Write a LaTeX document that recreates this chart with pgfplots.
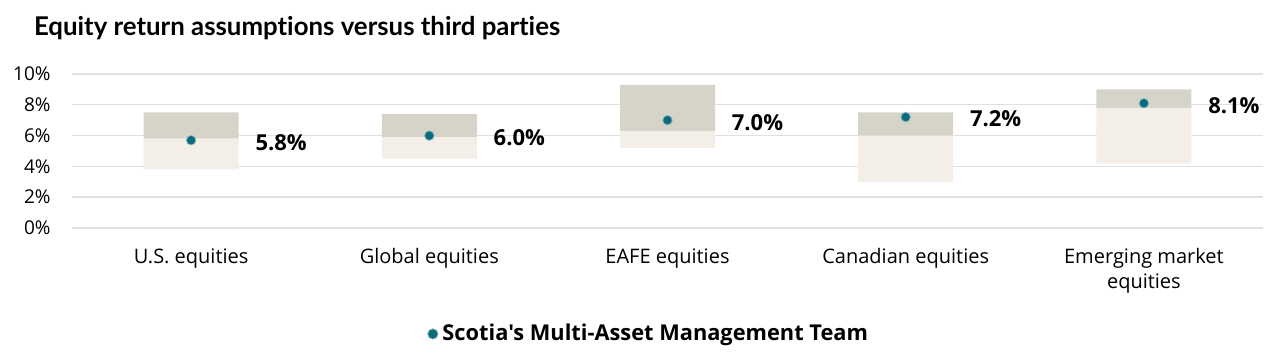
\documentclass[border=0pt]{standalone}
\usepackage{fontspec}
\setmainfont{Open Sans}
\newfontfamily\titlefont{Lato}[Ligatures={NoCommon}]
\newfontfamily\legfont{Open Sans}[Ligatures=TeXOff]
\usepackage{pgfplots}
\usepackage{pgfplotstable}
\pgfplotsset{compat=1.18}
\definecolor{upperc}{HTML}{D6D4C9}
\definecolor{lowerc}{HTML}{F3EEE7}
\definecolor{dotc}{HTML}{0C6B7B}
\definecolor{halo}{HTML}{8DBAC2}
\definecolor{gridc}{HTML}{E0E0E0}
% x, low, lower span (mid-low), upper span (high-mid)
\pgfplotstableread{
x low lowspan upspan
0 3.8 2.0 1.7
1 4.5 1.4 1.5
2 5.2 1.1 3.0
3 3.0 3.0 1.5
4 4.2 3.6 1.2
}\rangedata
\pgfplotstableread{
x y lab
0 5.7 5.8\%
1 6.0 6.0\%
2 7.0 7.0\%
3 7.2 7.2\%
4 8.1 8.1\%
}\dotdata
\begin{document}
\begin{tikzpicture}
\useasboundingbox (-36pt,-65pt) rectangle (604pt,114pt);
\begin{axis}[
  at={(0,0)}, anchor=south west,
  scale only axis,
  width=595.5pt, height=77pt,
  xmin=-0.5, xmax=4.5,
  ymin=0, ymax=10,
  axis line style={draw=none},
  major tick length=0pt,
  ymajorgrids,
  grid style={gridc, line width=0.7pt},
  ytick={0,2,4,6,8,10},
  yticklabel={\pgfmathprintnumber{\tick}\%},
  /pgf/number format/assume math mode=true,
  yticklabel style={font=\fontsize{9.5}{11}\selectfont, inner sep=0pt, xshift=-10.5pt},
  xtick={0,1,2,3,4},
  xticklabels={U.S. equities, Global equities, EAFE equities, Canadian equities, {Emerging market\\equities}},
  xticklabel style={font=\fontsize{10}{12.5}\selectfont, align=center, anchor=north, inner sep=0pt, yshift=-10pt},
  stack plots=y,
  clip=false,
  legend style={at={(0.485,-0.688)}, anchor=center, draw=none, fill=none,
    font=\legfont\fontsize{10.9}{12}\selectfont\bfseries, inner sep=0pt},
  legend cell align=left,
]
\addplot[ybar, bar shift=0pt, bar width=47.5pt, draw=none, fill=none, forget plot] table[x=x, y=low] {\rangedata};
\addplot[ybar, bar shift=0pt, bar width=47.5pt, draw=none, fill=lowerc, forget plot] table[x=x, y=lowspan] {\rangedata};
\addplot[ybar, bar shift=0pt, bar width=47.5pt, draw=none, fill=upperc, forget plot] table[x=x, y=upspan] {\rangedata};
\addplot[stack plots=false, only marks, mark=*, mark size=2.4pt, mark options={fill=dotc, draw=halo, line width=0.4pt},
  point meta=explicit symbolic,
  nodes near coords,
  nodes near coords style={anchor=west, inner sep=0pt, xshift=32pt, yshift=-1pt, font=\fontsize{11}{12}\selectfont\bfseries, text=black},
  legend image code/.code={\draw[fill=dotc, draw=halo, line width=0.4pt] (0cm,0) circle (2.6pt);},
] table[x=x, y=y, meta=lab] {\dotdata};
\addlegendentry{Scotia's Multi-Asset Management Team}
\node[anchor=base west, font=\titlefont\bfseries\fontsize{12.9}{14}\selectfont] at (rel axis cs:-0.0378,1.253) {Equity return assumptions versus third parties};
\end{axis}
\end{tikzpicture}
\end{document}
